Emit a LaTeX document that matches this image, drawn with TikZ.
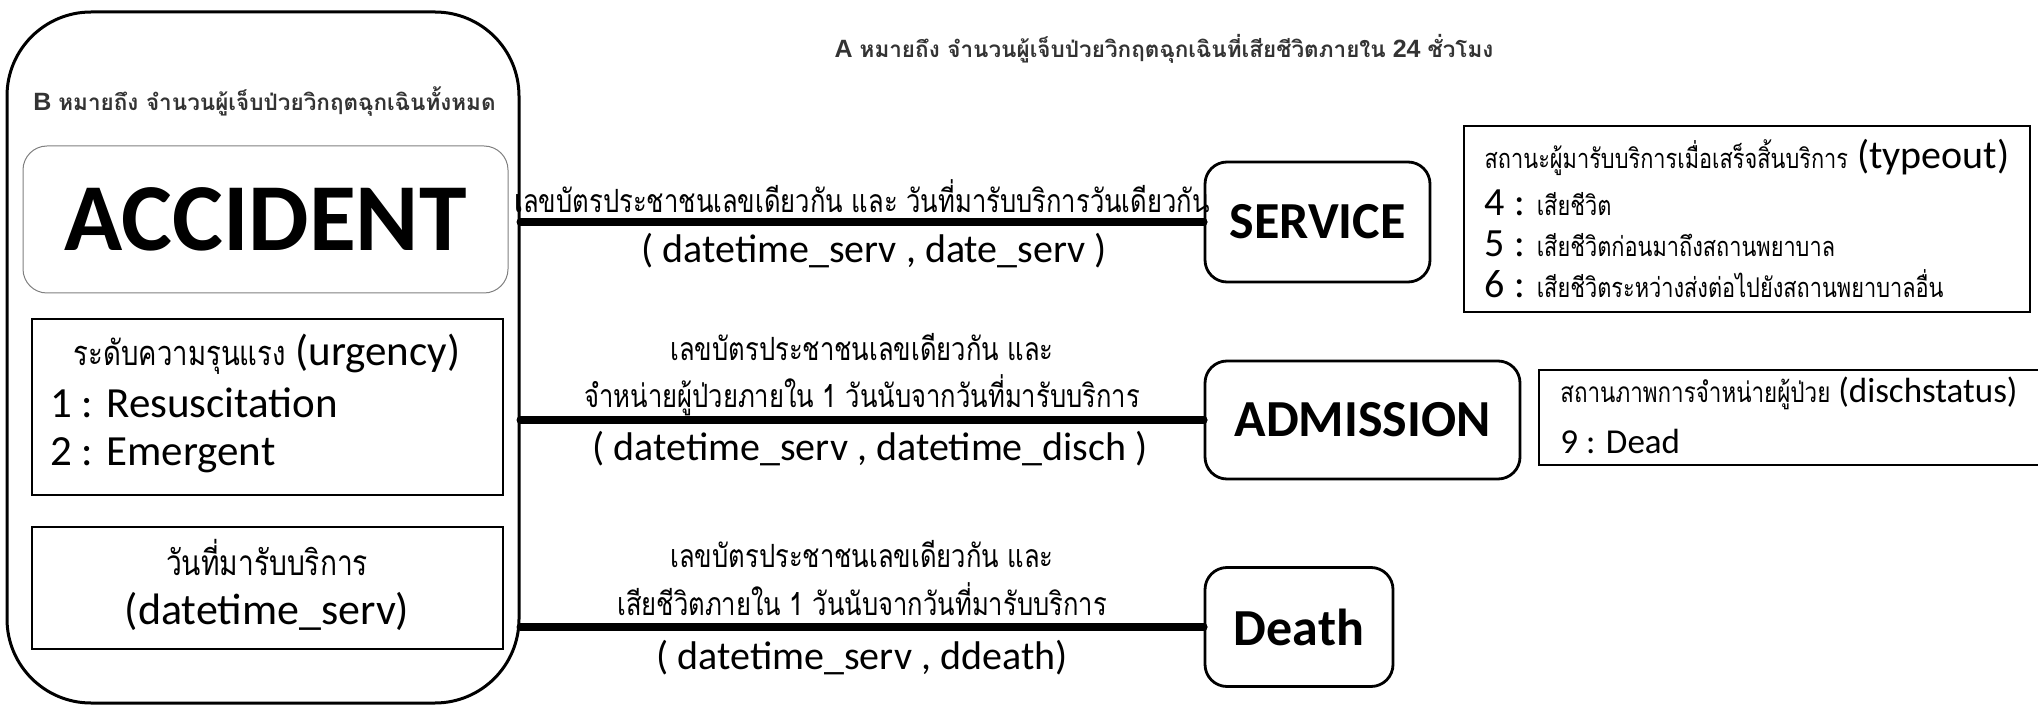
\documentclass[tikz,border=0pt]{standalone}
\usepackage{fontspec}
\setmainfont{Carlito}
\newfontfamily\thaifont[Script=Thai,Scale=0.8,FakeStretch=0.8]{Loma}
\newfontfamily\headfont{Liberation Sans}
\newfontfamily\headthai[Script=Thai,Scale=0.9]{Loma}
\usetikzlibrary{positioning}
\definecolor{headgray}{HTML}{333333}
\newcommand{\thai}[1]{{\thaifont #1}}
\newcommand{\thaism}[1]{{\thaifont\fontsize{17}{20.5}\selectfont #1}}

\begin{document}
\begin{tikzpicture}[x=0.5pt,y=-0.5pt,
  entity/.style={draw, line width=1.4pt, rounded corners=11pt, inner sep=0pt,
    font=\fontsize{26}{30}\selectfont\bfseries},
  attrbox/.style={draw, line width=0.8pt, inner sep=0pt},
  link/.style={line width=4pt, line cap=round},
  lbl/.style={font=\thaifont\fontsize{20}{22}\selectfont, inner sep=1pt},
  key/.style={font=\fontsize{20}{24}\selectfont, inner sep=1pt},
  note/.style={font=\headfont\bfseries\fontsize{12.5}{14}\selectfont, text=headgray, inner sep=0pt}]
    \useasboundingbox (0,0) rectangle (2038,705);

    % หัวข้อ
    \node[note] (anote) at (1164,49) {A {\headthai หมายถึง จำนวนผู้เจ็บป่วยวิกฤตฉุกเฉินที่เสียชีวิตภายใน} 24 {\headthai ชั่วโมง}};

    % กล่อง ACCIDENT
    \node[draw, line width=1.5pt, rounded corners=42pt, minimum width=256pt, minimum height=345.5pt] (acc) at (263,357.5) {};
    \node[note, anchor=west] (bnote) at (33,102) {B {\headthai หมายถึง จำนวนผู้เจ็บป่วยวิกฤตฉุกเฉินทั้งหมด}};
    \node[draw=gray, line width=0.5pt, rounded corners=12pt, minimum width=242.5pt, minimum height=73.5pt,
      font=\fontsize{48}{50}\selectfont\bfseries] (acctitle) at (265.5,219.5) {ACCIDENT};

    \node[attrbox, minimum width=235.5pt, minimum height=88pt] (urg) at (267.5,407) {};
    \node[font=\fontsize{21.5}{26}\selectfont] (urgtitle) at (267,354) {\thai{ระดับความรุนแรง} (urgency)};
    \node[font=\fontsize{21.5}{26}\selectfont, anchor=west, inner sep=0pt] (urg1) at (50,403) {1 : Resuscitation};
    \node[font=\fontsize{21.5}{26}\selectfont, anchor=west, inner sep=0pt] (urg2) at (50,455) {2 : Emergent};

    \node[attrbox, minimum width=235.5pt, minimum height=61pt] (serv) at (267.5,588) {};
    \node[font=\thaifont\fontsize{22}{26}\selectfont] (servth) at (267,557) {วันที่มารับบริการ};
    \node[font=\fontsize{22}{26}\selectfont] (servkey) at (267,611) {(datetime\_serv)};

    % ตารางปลายทาง
    \node[entity, minimum width=112.5pt, minimum height=60pt] (svc) at (1317.5,222) {SERVICE};
    \node[entity, minimum width=157.5pt, minimum height=59pt] (adm) at (1362.5,420) {ADMISSION};
    \node[entity, minimum width=94pt, minimum height=59.5pt] (dth) at (1299,627) {Death};

    % เส้นเชื่อม
    \draw[link] (acc.east |- svc) -- (svc)
      node[lbl, midway, above=1.5pt] {เลขบัตรประชาชนเลขเดียวกัน และ วันที่มารับบริการวันเดียวกัน}
      node[key, midway, below=2.5pt, xshift=6pt] {( datetime\_serv , date\_serv )};
    \draw[link] (acc.east |- adm) -- (adm)
      node[lbl, midway, above=-1pt, align=center, text depth=4pt] {เลขบัตรประชาชนเลขเดียวกัน และ\\[2pt]จำหน่ายผู้ป่วยภายใน 1 วันนับจากวันที่มารับบริการ}
      node[key, midway, below=2.5pt, xshift=4pt] {( datetime\_serv , datetime\_disch )};
    \draw[link] (acc.east |- dth) -- (dth)
      node[lbl, midway, above=-1pt, align=center, text depth=4pt] {เลขบัตรประชาชนเลขเดียวกัน และ\\[2pt]เสียชีวิตภายใน 1 วันนับจากวันที่มารับบริการ}
      node[key, midway, below=3.5pt] {( datetime\_serv , ddeath)};

    % ค่าที่ใช้
    \node[draw, line width=1.4pt, minimum width=283pt, minimum height=93pt, align=left, inner sep=0pt,
      font=\fontsize{20}{20.5}\selectfont] (typeout) at (1747,219)
      {\thaism{สถานะผู้มารับบริการเมื่อเสร็จสิ้นบริการ} (typeout)\\[3pt]
       4 : \thaism{เสียชีวิต}\\
       5 : \thaism{เสียชีวิตก่อนมาถึงสถานพยาบาล}\\
       6 : \thaism{เสียชีวิตระหว่างส่งต่อไปยังสถานพยาบาลอื่น}};
    \node[draw, line width=1.2pt, minimum width=270pt, minimum height=47.5pt, anchor=west] (disch) at (1538,417.5) {};
    \node[font=\fontsize{17.5}{20}\selectfont, anchor=west, inner sep=0pt] (dischtitle) at (1560,393)
      {\thai{สถานภาพการจำหน่ายผู้ป่วย} (dischstatus)};
    \node[font=\fontsize{17.5}{20}\selectfont, anchor=west, inner sep=0pt] (disch9) at (1560,441) {9 : Dead};
\end{tikzpicture}
\end{document}
